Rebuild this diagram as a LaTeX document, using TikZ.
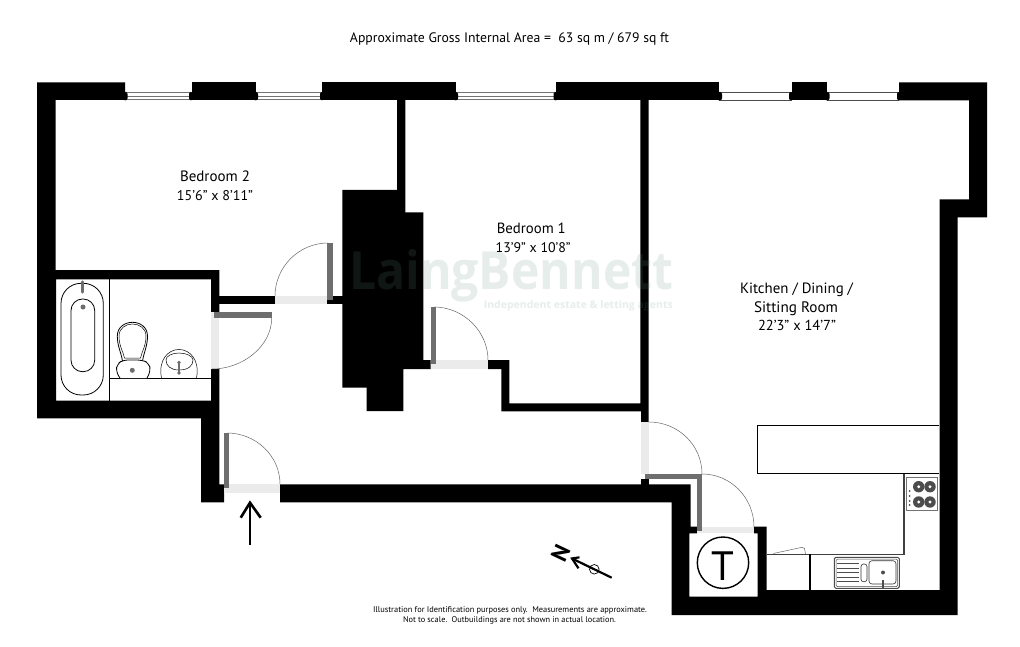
\documentclass[tikz,border=0pt]{standalone}
\usepackage{fontspec}
\setmainfont{PT Sans}
\newfontfamily\wmfont{Open Sans}
\definecolor{leafgray}{HTML}{6E6E6E}
\definecolor{gapgray}{HTML}{EBEBEB}
\definecolor{wmgreen}{RGB}{96,146,127}
\newcommand{\fitw}[2]{\resizebox{#1pt}{!}{#2}}
\begin{document}
\begin{tikzpicture}[x=1pt,y=-1pt,
  wall/.style={fill=black,draw=none},
  leaf/.style={fill=leafgray,draw=none},
  gap/.style={fill=gapgray,draw=none},
  swing/.style={draw=black!60,line width=0.5pt},
  fixture/.style={draw=black,line width=0.8pt,fill=white},
  thinfix/.style={draw=black,line width=0.7pt},
  lab/.style={font=\fontsize{14}{16}\selectfont,inner sep=0pt,anchor=base},
  small/.style={font=\fontsize{8.3}{10}\selectfont,inner sep=0pt,anchor=base},
  pointer/.style={draw=black,line width=2.6pt},
  winlineA/.style={draw=black!55,line width=1pt},
  winlineB/.style={draw=black!70,line width=0.7pt},
  watermark/.style={inner sep=0pt,text=wmgreen,text opacity=0.157,font=\wmfont\bfseries},
  bump/.style={fill=black,draw=none,rounded corners=2pt}]
\useasboundingbox (0,0) rectangle (1020,647);
\fill[white] (0,0) rectangle (1020,647);
% windows
\foreach \a/\b in {125/192,256/322,456/556}{
  \draw[winlineA] (\a,92.5) -- (\b,92.5);
  \draw[winlineA] (\a,96.2) -- (\b,96.2);
  \draw[winlineA] (\a,100) -- (\b,100);
}
\foreach \a/\b in {719/792,827/899}{
  \draw[winlineB] (\a,92.5) -- (\b,92.5);
  \draw[winlineB] (\a,100.5) -- (\b,100.5);
}
% window piers between openings
\fill[wall] (191.7,82.3) rectangle (255.7,100.3);
\fill[wall] (322,82.3) rectangle (455.7,100.3);
\fill[wall] (556,82.3) rectangle (719,100.5);
\fill[wall] (791.7,82.3) rectangle (826.7,100.5);
\foreach \a/\b in {123/127.5,189/193,253.5/258,320/324,453.5/458,553.5/558,717/722,789/793,824.5/829.5,897/901}{
  \fill[bump] (\a,92) rectangle (\b,100.3);
}
% walls
\fill[wall] (37,82.3) -- (125,82.3) -- (125,100) -- (55.5,100) -- (55.5,270) -- (219.3,270) -- (219.3,312) -- (211,312) -- (211,279.3) -- (56,279.3) -- (56,400.7) -- (211,400.7) -- (211,369) -- (219.3,369) -- (219.3,484.3) -- (224,484.3) -- (224,502.3) -- (201,502.3) -- (201,418.3) -- (37,418.3) -- cycle;
\fill[wall] (219,296) rectangle (275,304.3);
\fill[wall] (327.3,296) rectangle (343,304.3);
\fill[wall] (342.3,190) -- (397,190) -- (397,100) -- (405.3,100) -- (405.3,212.3) -- (423.3,212.3) -- (423.3,360) -- (430.7,360) -- (430.7,369) -- (403.3,369) -- (403.3,411) -- (366.7,411) -- (366.7,387.7) -- (342.3,387.7) -- cycle;
\fill[wall] (488,360) -- (509.3,360) -- (509.3,403.3) -- (640.3,403.3) -- (640.3,100) -- (648.7,100) -- (648.7,422) -- (641,422) -- (641,411.3) -- (501.3,411.3) -- (501.3,369) -- (488,369) -- cycle;
\fill[wall] (641,479.3) rectangle (649,485);
\fill[wall] (280,484.3) -- (690.7,484.3) -- (690.7,526.7) -- (697,526.7) -- (697,533.3) -- (689.3,533.3) -- (689.3,596.7) -- (757.7,596.7) -- (757.7,533.3) -- (754,533.3) -- (754,526.7) -- (766.7,526.7) -- (766.7,590) -- (939.7,590) -- (939.7,199.3) -- (969,199.3) -- (969,100.5) -- (899,100.5) -- (899,82.3) -- (987,82.3) -- (987,217.3) -- (957.7,217.3) -- (957.7,615) -- (671.7,615) -- (671.7,502.3) -- (280,502.3) -- cycle;
% watermark, faintly over the walls
\node[watermark,anchor=base west] (wm) at (349,290) {\resizebox{324pt}{40pt}{LaingBennett}};
\node[watermark,anchor=base east] (wm2) at (673,308) {\fitw{189}{Independent estate \& letting agents}};
% door gaps
\fill[gap] (275,296) rectangle (327.3,304.3);
\fill[gap] (211,312) rectangle (219.3,369);
\fill[gap] (224,484.3) rectangle (280,492.7);
\fill[gap] (430.7,360) rectangle (488,369);
\fill[gap] (641,422) rectangle (649,474);
\fill[gap] (697,526.7) rectangle (754,533.3);
% door leaves
\fill[leaf] (327.3,243) rectangle (332.7,300);
\fill[leaf] (214,312.3) rectangle (271.7,318.3);
\fill[leaf] (224,432.7) rectangle (229.3,488);
\fill[leaf] (430.7,306.7) rectangle (436,364);
\fill[leaf] (645,474) rectangle (702.3,479.3);
\fill[leaf] (696.7,474) rectangle (702.3,531);
% door swings
\draw[swing] (328,243) .. controls (299,243) and (275,267) .. (275,296);
\draw[swing] (271.7,318) .. controls (271.7,346) and (243,369) .. (212,369);
\draw[swing] (227,433) .. controls (256,433) and (280,456) .. (280,484);
\draw[swing] (434,307) .. controls (463,307) and (488,331) .. (488,360);
\draw[swing] (702,474) .. controls (702,445) and (678,422) .. (649,422);
\draw[swing] (702,474) .. controls (731,474) and (754,498) .. (754,527);
% bathroom
\draw[thinfix] (109.7,279.3) -- (109.7,400.7);
\draw[thinfix] (109.7,378) -- (211,378);
\draw[fixture,rounded corners=20pt] (61,283.3) rectangle (103.3,395);
\draw[fixture,rounded corners=11.5pt] (71,299) rectangle (94.7,371.7);
\fill[leafgray] (83,307) circle[radius=2.5];
\draw[leafgray,line width=3.5pt,line cap=round] (82.7,282) -- (82.7,292);
\draw[fixture] (122.5,361) .. controls (121,352) and (117.3,346) .. (117.3,336) .. controls (117.3,327) and (125,322.3) .. (132.5,322.3) .. controls (140,322.3) and (147.5,327) .. (147.5,336) .. controls (147.5,346) and (144,352) .. (142.5,361) -- cycle;
\draw[thinfix,line width=0.5pt] (124.5,358) .. controls (123,351) and (119,346) .. (119,336) .. controls (119,328) and (126,324) .. (132.5,324) .. controls (139,324) and (146,328) .. (146,336) .. controls (146,346) and (142,351) .. (140.5,358) -- cycle;
\draw[fixture,rounded corners=5pt] (120,378) -- (116,372) -- (117,364) -- (123,360) -- (142,360) -- (149,363) -- (150.7,371) -- (147,378);
\fill[leafgray] (132.3,370.3) circle[radius=2.5];
\draw[thinfix,line width=0.5pt] (161.5,378) .. controls (158,360) and (168,349.5) .. (179,349.5) .. controls (190,349.5) and (200,360) .. (196.5,378);
\draw[thinfix,line width=0.5pt] (166,360) .. controls (166,356) and (172,353) .. (179,353) .. controls (186,353) and (193,356) .. (193,360) .. controls (193,366) and (188,370) .. (179,370) .. controls (171,370) and (166,366) .. (166,360) -- cycle;
\draw[leafgray,line width=1.3pt] (179,362) -- (179,373);
\fill[leafgray] (179,362.5) circle[radius=1.8] (179,373) circle[radius=1.8];
% T cupboard
\node[draw=black,line width=1.4pt,circle,minimum size=51.4pt,inner sep=0pt] (tank) at (723,562.7) {};
\node[inner sep=0pt,anchor=base,font=\fontsize{41}{41}\selectfont] (tletter) at (723,580) {T};
% kitchen
\draw[draw=black,line width=1.2pt,fill=white] (939,425.3) -- (757.7,425.3) -- (757.7,473.7) -- (939,473.7);
\coordinate (ctop) at (904,473.7);
\coordinate (ccorner) at (904,554.3);
\coordinate (cleft) at (766.7,554.3);
\draw[black!75,line width=1.3pt] (ctop) -- (ccorner) -- (cleft);
\draw[black,line width=1.3pt] (810,554.3) -- (810,590);
\draw[swing,line join=round] (773.3,553.5) -- (802,547.3) -- (804.5,548.5) -- (805.5,554);
% hob
\draw[black!55,line width=0.8pt] (906.3,477.3) rectangle (937,510.7);
\foreach \x/\y in {918.7/486.7,930/486.7,918.7/502,930/502}{
  \fill[black!70] (\x,\y) circle[radius=5.7];
  \fill[white] (\x,\y) circle[radius=1.6];
}
\foreach \y in {491,496,501,505}{\fill[black!70] (909.7,\y) circle[radius=1];}
% sink
\draw[black!70,line width=0.9pt,rounded corners=1.5pt] (834.3,557.3) rectangle (899.3,588.3);
\draw[black!70,line width=0.5pt,rounded corners=1.5pt] (836,559) rectangle (897.7,586.7);
\foreach \y in {563.5,568,572.5,577,581.5}{\draw[black!70,line width=0.9pt] (837.3,\y) -- (859,\y);}
\draw[black!80,line width=0.6pt,rounded corners=2.5pt] (861,564) rectangle (867,581.7);
\draw[black!80,line width=0.6pt,rounded corners=3pt] (869,560.7) rectangle (896,584);
\fill[black!70] (883,572.5) circle[radius=2];
\draw[black!70,line width=1.5pt] (883,580) -- (883,588);
% entrance arrow
\coordinate (entrytail) at (250,545);
\coordinate (entrytip) at (250,502.7);
\draw[pointer] (entrytail) -- (entrytip);
\draw[pointer] (240.7,517.7) -- (entrytip) -- (260.7,517.7);
% north arrow
\coordinate (northtail) at (611.7,577.7);
\coordinate (northtip) at (572,558.5);
\draw[draw=black,line width=2.2pt] (northtail) -- (northtip);
\draw[draw=black,line width=2.2pt] (579.5,557.3) -- (northtip) -- (578.5,568.3);
\draw[black,line width=0.7pt] (594.3,569.3) circle[radius=4.8];
\node[inner sep=0pt,rotate=64.6,font=\fontsize{23}{23}\selectfont\bfseries] (north) at (560.5,553.5) {N};
% labels
\node[lab] (title) at (509.5,42.7) {\fitw{319}{Approximate Gross Internal Area =\ \ 63 sq m / 679 sq ft}};
\node[lab] (bed2) at (215,181.7) {\fitw{70}{Bedroom 2}};
\node[lab] (bed2d) at (215,201) {\fitw{76}{15’6” x 8’11”}};
\node[lab] (bed1) at (531.3,233.3) {\fitw{69}{Bedroom 1}};
\node[lab] (bed1d) at (533.2,252.3) {\fitw{75}{13’9” x 10’8”}};
\node[lab] (kit1) at (796.5,293.3) {\fitw{113}{Kitchen / Dining /}};
\node[lab] (kit2) at (796,312.3) {\fitw{84}{Sitting Room}};
\node[lab] (kit3) at (797,330.7) {\fitw{78}{22’3” x 14’7”}};
\node[small] (note1) at (510,612.7) {\fitw{274}{Illustration for Identification purposes only.\ \ Measurements are approximate.}};
\node[small] (note2) at (509.5,622.7) {\fitw{213}{Not to scale.\ \ Outbuildings are not shown in actual location.}};
\end{tikzpicture}
\end{document}
